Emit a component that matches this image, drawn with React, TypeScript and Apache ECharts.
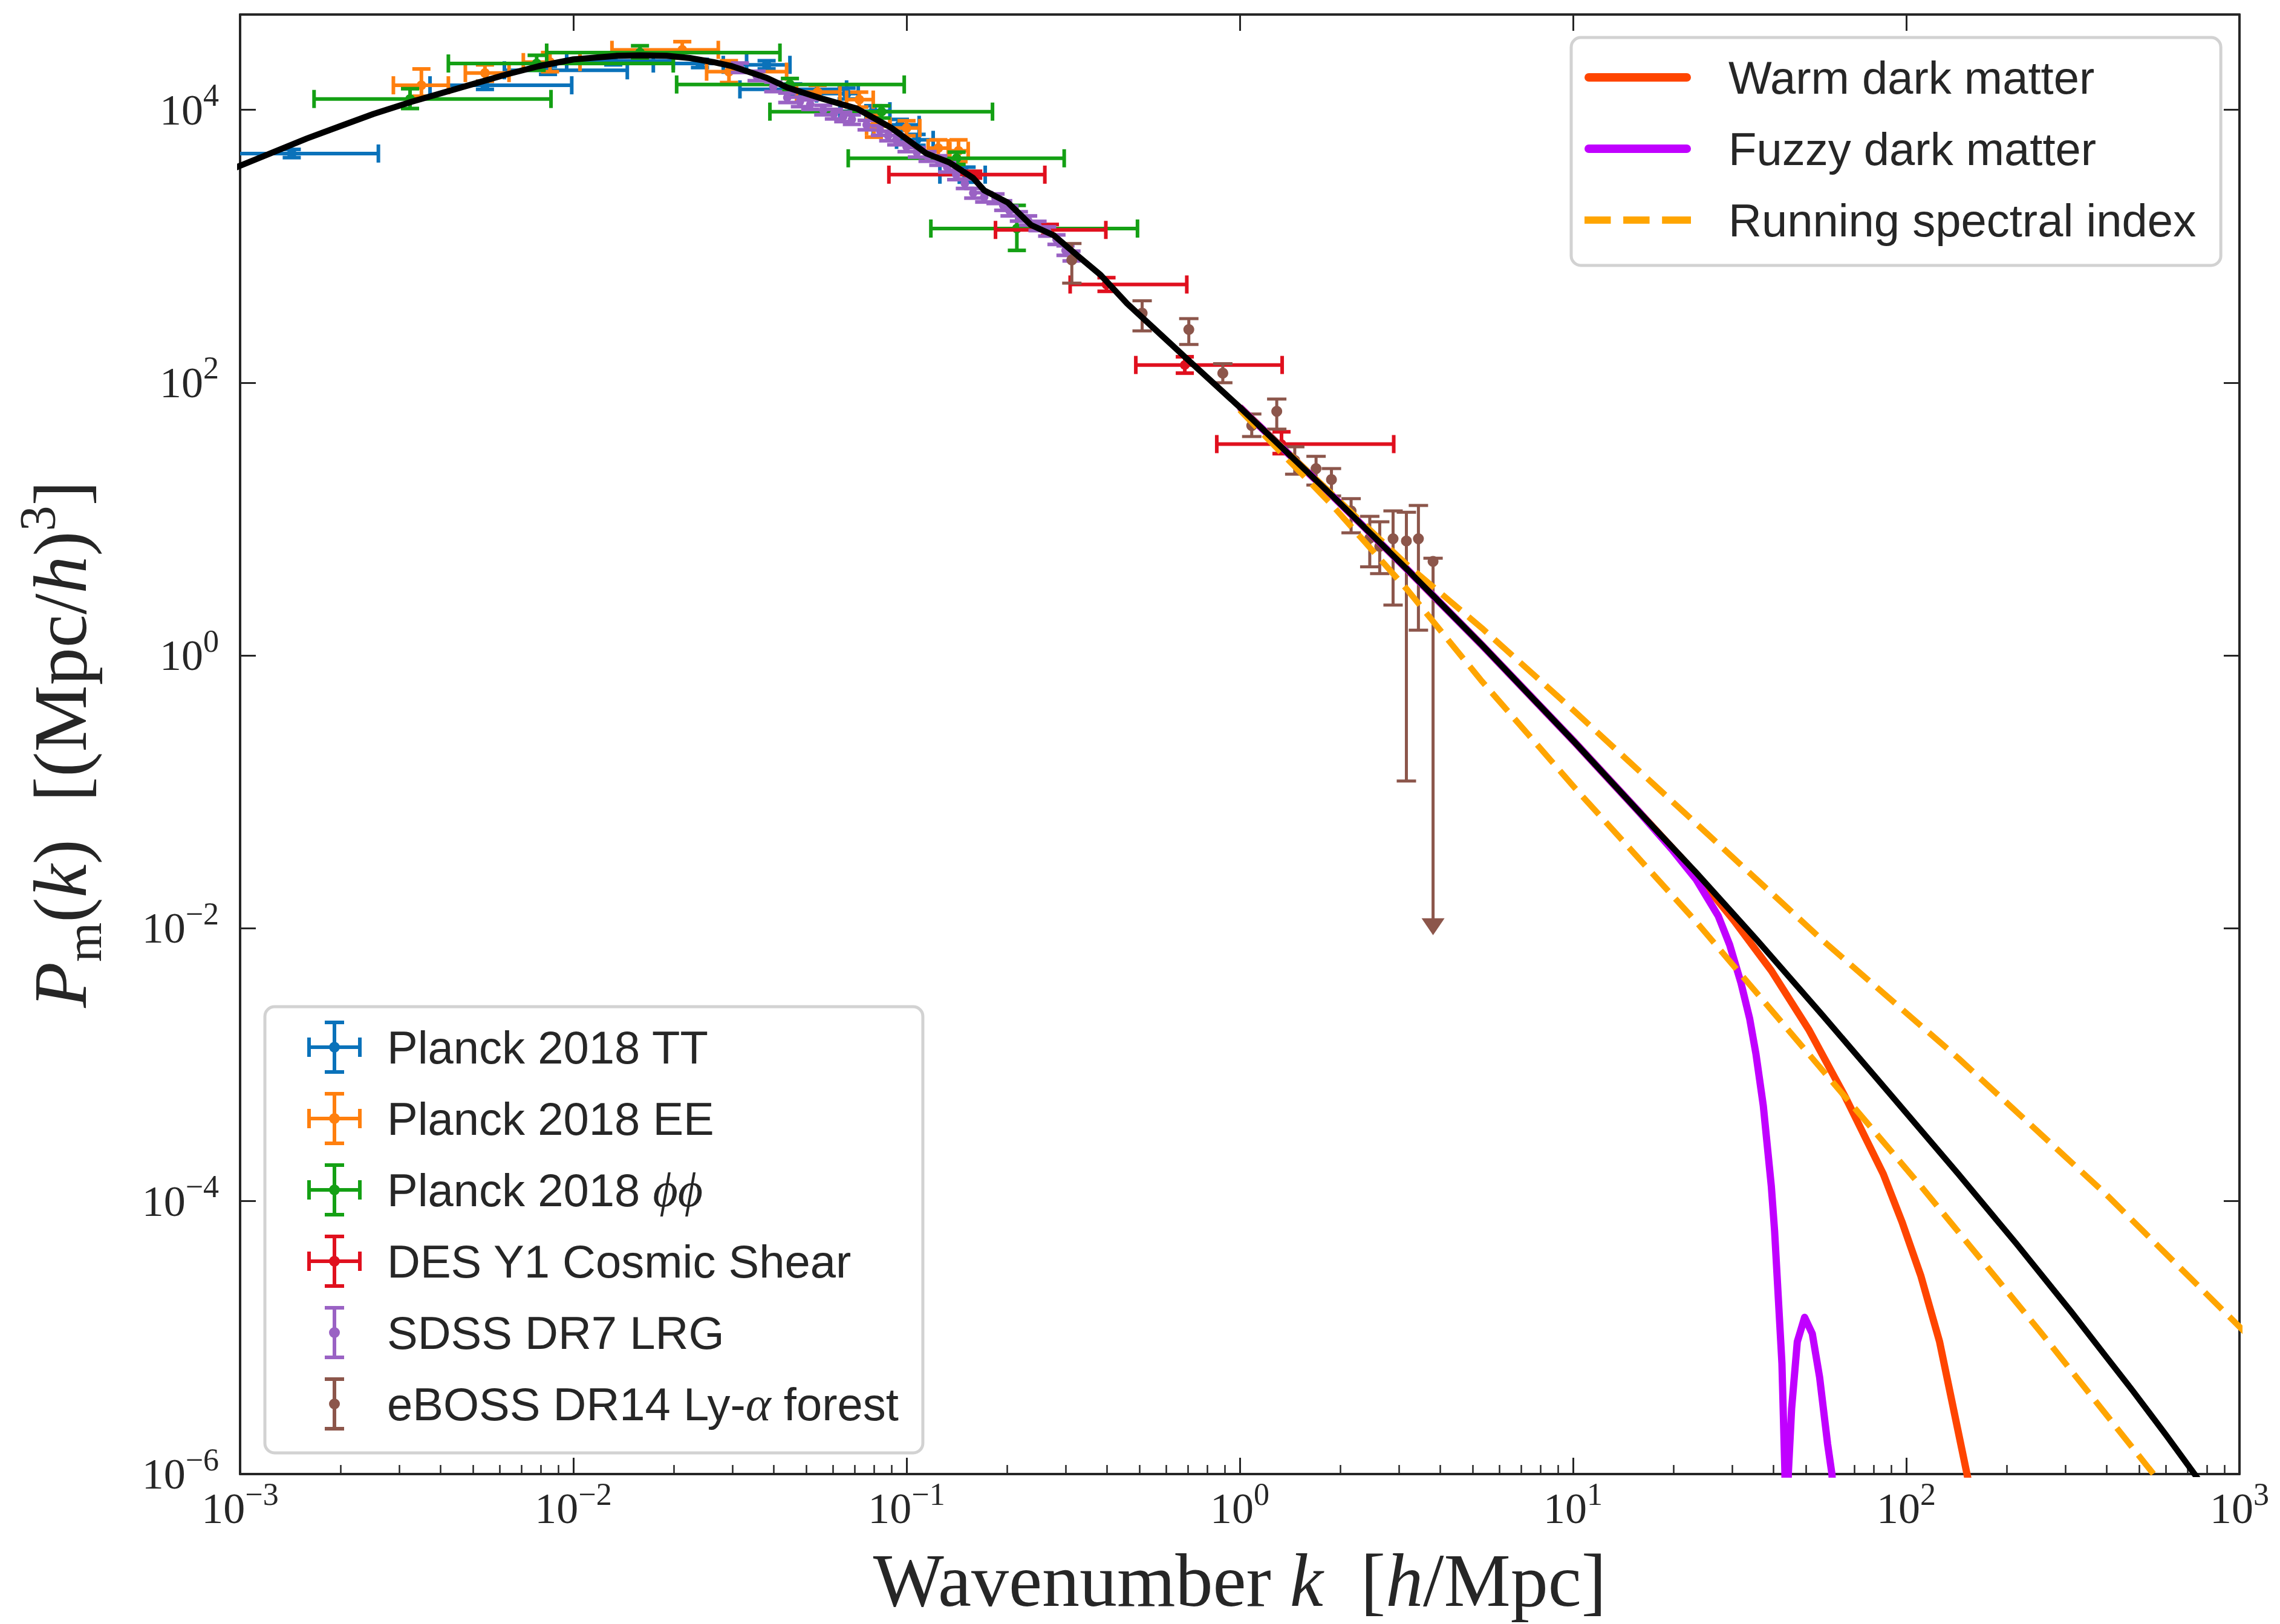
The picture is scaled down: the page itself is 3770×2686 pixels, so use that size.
import React, { useEffect, useRef } from 'react';
import * as echarts from 'echarts';

// Matter power spectrum: linear ΛCDM prediction, alternative dark-matter models
// and the observational band-power estimates from several surveys.

const INK = '#262626';
const SERIF = '"Liberation Serif", "DejaVu Serif", serif';
const SANS = '"Liberation Sans", "DejaVu Sans", sans-serif';

// ---- theory curves (k in h/Mpc, P in (Mpc/h)^3) ----
const lcdmK = [0.00089, 0.001, 0.001259, 0.001585, 0.001995, 0.002512, 0.003273, 0.005012, 0.00631, 0.00787, 0.01, 0.01122, 0.01349, 0.01585, 0.01905, 0.02239, 0.0263, 0.02992, 0.03802, 0.04385, 0.05623, 0.07096, 0.09016, 0.1148, 0.1346, 0.1585, 0.171, 0.2014, 0.236, 0.2767, 0.3243, 0.382, 0.4592, 0.5408, 0.7129, 1.0, 1.897, 3.162, 5.333, 10.12, 15.85, 23.39, 35.48, 56.23, 89.13, 143.2, 213.8, 312.6, 398.1, 478.6, 602.6, 743, 832];
const lcdmP = [3467, 3890, 4898, 6166, 7586, 9333, 11480, 15490, 18200, 20890, 23440, 23990, 24890, 25120, 24890, 23990, 22390, 20900, 17180, 14590, 12020, 10210, 7362, 4786, 4111, 3162, 2570, 2089, 1435, 1202, 863, 617, 380, 263, 141, 66.1, 14.79, 4.335, 1.191, 0.2312, 0.07063, 0.0257, 0.00832, 0.002291, 6.17e-4, 1.585e-4, 4.9e-5, 1.549e-5, 7.24e-6, 4.07e-6, 1.928e-6, 9.55e-7, 6.46e-7];

const wdmK = [1, 1.897, 3.162, 5.333, 10.12, 15.85, 23.39, 30.34, 39.36, 50.93, 65.77, 85.31, 97.05, 110.7, 125.9, 150.7, 162.2];
const wdmP = [66.1, 14.79, 4.335, 1.191, 0.2312, 0.07063, 0.0251, 0.01148, 0.0049, 0.00182, 5.75e-4, 1.585e-4, 7.08e-5, 2.82e-5, 9.33e-6, 1.12e-6, 4.68e-7];

const fdmK = [1, 1.897, 3.162, 5.333, 10.12, 15.85, 19.95, 23.39, 27.29, 29.51, 31.92, 33.88, 35.4, 37.24, 39.36, 40.27, 42.36, 43.25, 43.65, 44.26, 45.29, 47.1, 49.55, 52.24, 54.95, 58.08, 59.84, 61.66];
const fdmP = [66.1, 14.79, 4.335, 1.191, 0.2312, 0.07063, 0.03715, 0.02291, 0.0123, 0.00759, 0.00398, 0.00219, 0.0012, 5.01e-4, 1.29e-4, 6.03e-5, 6.46e-6, 1e-6, 1e-8, 1e-6, 3.02e-6, 9.33e-6, 1.41e-5, 1.07e-5, 5.13e-6, 1.66e-6, 1e-6, 3.16e-7];

const runHighK = [1, 1.897, 3.162, 5.333, 10.12, 23.39, 56.23, 143.2, 398.1, 1000, 1047];
const runHighP = [66.07, 15.14, 4.677, 1.585, 0.389, 0.0589, 0.00813, 0.00112, 1.122e-4, 1.202e-5, 1.072e-5];
const runLowK = [1, 1.897, 3.162, 5.333, 10.12, 23.39, 50.12, 110.7, 251.2, 552.1, 631];
const runLowP = [63.1, 12.59, 3.09, 0.6457, 0.1072, 0.01122, 0.001259, 1.288e-4, 1.122e-5, 1e-6, 6.6e-7];

// ---- measurements: [k, P, kLow, kHigh, PLow, PHigh] ----
const planckTT = [
  [0.001429, 4786, 0.00063, 0.0026, 4467, 5129],
  [0.00543, 15140, 0.003715, 0.00989, 14130, 16220],
  [0.008395, 19500, 0.00621, 0.01452, 18200, 20890],
  [0.01318, 22910, 0.00955, 0.01995, 21380, 24550],
  [0.02399, 21880, 0.01738, 0.03311, 20420, 23440],
  [0.03802, 21380, 0.02818, 0.04467, 19950, 22910],
  [0.0457, 14130, 0.03162, 0.06607, 12880, 15490],
  [0.06607, 13180, 0.0537, 0.07161, 12020, 14450],
  [0.07943, 9772, 0.0631, 0.08913, 8913, 10720],
  [0.0955, 7762, 0.07943, 0.1091, 7079, 8511],
  [0.1072, 6026, 0.09333, 0.1202, 5495, 6607],
  [0.1514, 3350, 0.1259, 0.1722, 2951, 3802],
];
const planckEE = [
  [0.0035, 15140, 0.002884, 0.004217, 12590, 19950],
  [0.00543, 18620, 0.004742, 0.006412, 16220, 21380],
  [0.008511, 22390, 0.007079, 0.01047, 19050, 26300],
  [0.02123, 27540, 0.01306, 0.02723, 23990, 31620],
  [0.02931, 19050, 0.02512, 0.04365, 15850, 22910],
  [0.05408, 13490, 0.04677, 0.0631, 12020, 15140],
  [0.07211, 11890, 0.06607, 0.07943, 10470, 13490],
  [0.0798, 7586, 0.07586, 0.08913, 6310, 9120],
  [0.1, 7362, 0.08913, 0.1096, 6457, 8318],
  [0.1245, 5248, 0.1161, 0.1334, 4571, 6026],
  [0.1432, 5012, 0.1349, 0.1531, 4169, 6026],
];
const planckPhiPhi = [
  [0.003236, 12020, 0.001667, 0.00857, 10230, 14290],
  [0.007762, 21880, 0.004217, 0.01995, 19500, 25120],
  [0.01585, 26300, 0.008318, 0.04169, 23990, 29510],
  [0.04467, 15350, 0.02042, 0.0984, 13800, 16980],
  [0.08414, 9705, 0.0389, 0.1811, 8710, 10720],
  [0.1413, 4416, 0.06683, 0.2972, 3981, 4898],
  [0.2143, 1349, 0.1183, 0.4932, 933, 1995],
];
const desY1 = [
  [0.1585, 3350, 0.08851, 0.26, 3162, 3548],
  [0.2692, 1318, 0.1849, 0.3963, 1202, 1445],
  [0.3981, 524.8, 0.3097, 0.6934, 467.7, 588.8],
  [0.6839, 134.9, 0.4875, 1.34, 117.5, 154.9],
  [1.334, 35.48, 0.853, 2.897, 30.2, 43.65],
];

// SDSS DR7 LRG band powers and their 1-sigma errors
const sdssK = [0.03162, 0.03548, 0.03981, 0.04385, 0.04786, 0.0514, 0.05623, 0.06053, 0.06457, 0.06855, 0.07586, 0.08318, 0.0881, 0.09311, 0.1, 0.1074, 0.1156, 0.1245, 0.1324, 0.1409, 0.1496, 0.1585, 0.171, 0.1849, 0.195, 0.2037, 0.2173, 0.2317, 0.2472, 0.2642, 0.2818, 0.2999, 0.3126];
const sdssP = [20420, 17780, 14790, 12300, 11480, 10960, 10000, 9333, 8913, 8511, 7762, 7079, 6457, 6026, 5370, 4898, 4571, 4266, 3802, 3350, 2884, 2455, 2291, 2239, 1995, 1820, 1660, 1549, 1413, 1288, 1122, 933, 851];
const sdssErr = [1630, 1420, 1180, 980, 920, 880, 800, 750, 710, 680, 620, 570, 520, 480, 430, 390, 370, 340, 300, 270, 230, 200, 180, 180, 160, 150, 130, 120, 110, 100, 90, 75, 70];

// eBOSS DR14 Lyman-alpha: [k, P, PLow, PHigh, upperLimit]
const eboss = [
  [0.3133, 794.3, 537, 1047, 0],
  [0.5093, 323.6, 239.9, 398.1, 0],
  [0.7031, 245.5, 190.5, 295.1, 0],
  [0.8892, 117.5, 100, 138, 0],
  [1.086, 48.42, 40.27, 58.88, 0],
  [1.291, 61.66, 45.71, 75.86, 0],
  [1.462, 26.92, 21.38, 33.88, 0],
  [1.694, 23.44, 17.78, 28.84, 0],
  [1.884, 19.5, 14.79, 23.44, 0],
  [2.158, 11.48, 7.943, 14.13, 0],
  [2.455, 7.244, 4.467, 10.47, 0],
  [2.63, 6.31, 3.981, 9.55, 0],
  [2.884, 7.178, 2.344, 11.48, 0],
  [3.162, 6.918, 0.1202, 11.22, 0],
  [3.436, 7.178, 1.535, 12.59, 0],
  [3.802, 4.898, 0.00891, 5.176, 1],
];

// ---- axis ticks ----
const xMajorTicks = [1e-3, 1e-2, 1e-1, 1, 10, 100, 1000];
const xMinorTicks: number[] = [];
for (let e = -3; e < 3; e++) {
  for (let m = 2; m <= 9; m++) xMinorTicks.push(Number((m * Math.pow(10, e)).toPrecision(3)));
}
const yMajorTicks = [1e-6, 1e-4, 1e-2, 1, 1e2, 1e4];

const COLORS = {
  tt: '#0a72ba',
  ee: '#ff7f0e',
  phi: '#14a014',
  des: '#e0101e',
  sdss: '#9a62c4',
  eboss: '#8c564b',
  wdm: '#ff4500',
  fdm: '#c000ff',
  run: '#ffa500',
  lcdm: '#000000',
};

// legend glyphs: errorbar crosses, vertical error bars with a centre dot, line swatches
const CROSS_ICON =
  'path://M0,41H90V47H0Z M0,28H6V60H0Z M84,28H90V60H84Z M42,0H48V88H42Z M29,0H61V6H29Z M29,82H61V88H29Z M36,44A9,9,0,1,1,54,44A9,9,0,1,1,36,44Z';
const VBAR_ICON =
  'path://M13,0H19V88H13Z M0,0H32V6H0Z M0,82H32V88H0Z M7,44A9,9,0,1,1,25,44A9,9,0,1,1,7,44Z';
const SOLID_ICON = 'path://M7,0H169A7,7,0,0,1,169,14H7A7,7,0,0,1,7,0Z';
const DASH_ICON = 'path://M0,0H40V11H0Z M59,0H99V11H59Z M118,0H162V11H118Z';

function powerLabel(v: number) {
  const e = Math.round(Math.log10(v));
  return `{b|10}{s|${e < 0 ? '\u2212' + String(-e) : String(e)}}`;
}

const zip = (xs: number[], ys: number[]) => xs.map((x, i) => [x, ys[i]]);

function errorBars(color: string, lw: number, cap: number, r: number) {
  return (_params: any, api: any) => {
    const k = api.value(0);
    const p = api.value(1);
    const kLo = api.value(2);
    const kHi = api.value(3);
    const pLo = api.value(4);
    const pHi = api.value(5);
    const upperLimit = api.value(6) === 1;
    const c = api.coord([k, p]);
    const line = { stroke: color, lineWidth: lw };
    const children: any[] = [];
    const seg = (x1: number, y1: number, x2: number, y2: number) =>
      children.push({ type: 'line', shape: { x1, y1, x2, y2 }, style: line });
    if (kHi > kLo) {
      const a = api.coord([kLo, p]);
      const b = api.coord([kHi, p]);
      seg(a[0], c[1], b[0], c[1]);
      seg(a[0], c[1] - cap, a[0], c[1] + cap);
      seg(b[0], c[1] - cap, b[0], c[1] + cap);
    }
    if (pHi > pLo) {
      const top = api.coord([k, pHi])[1];
      const bot = api.coord([k, pLo])[1];
      seg(c[0] - cap, top, c[0] + cap, top);
      if (upperLimit) {
        seg(c[0], top, c[0], bot - 20);
        children.push({
          type: 'polygon',
          shape: { points: [[c[0] - 19, bot - 28], [c[0] + 19, bot - 28], [c[0], bot]] },
          style: { fill: color },
        });
      } else {
        seg(c[0], top, c[0], bot);
        seg(c[0] - cap, bot, c[0] + cap, bot);
      }
    }
    children.push({ type: 'circle', shape: { cx: c[0], cy: c[1], r }, style: { fill: color } });
    return { type: 'group', children };
  };
}

function errorSeries(name: string, color: string, rows: number[][], lw: number, cap: number, r: number) {
  return {
    name,
    type: 'custom',
    xAxisIndex: 0,
    yAxisIndex: 0,
    z: 1,
    clip: true,
    silent: true,
    itemStyle: { color },
    encode: { x: 0, y: 1 },
    dimensions: ['k', 'P', 'kLo', 'kHi', 'PLo', 'PHi', 'lim'],
    renderItem: errorBars(color, lw, cap, r),
    data: rows,
  };
}

function curve(name: string, data: number[][], color: string, width: number, z: number, dash?: number[]) {
  return {
    name,
    type: 'line',
    data,
    xAxisIndex: 0,
    yAxisIndex: 0,
    z,
    symbol: 'none',
    showSymbol: false,
    clip: true,
    silent: true,
    smooth: false,
    lineStyle: { color, width, type: dash ?? 'solid', cap: 'butt', join: 'round' },
    itemStyle: { color, borderWidth: 0 },
    emphasis: { disabled: true },
  };
}

const tickLabelRich = {
  b: { fontFamily: SERIF, fontSize: 72, lineHeight: 100, verticalAlign: 'middle', color: INK },
  s: { fontFamily: SERIF, fontSize: 52, lineHeight: 58, verticalAlign: 'top', color: INK },
};

const spine = { show: true, onZero: false, lineStyle: { color: INK, width: 4 } };

function buildOption() {
  const logX = { type: 'log', logBase: 10, min: 1e-3, max: 1e3, gridIndex: 0, splitLine: { show: false } };
  const logY = { type: 'log', logBase: 10, min: 1e-6, max: 5e4, gridIndex: 0, splitLine: { show: false } };

  const sdssRows = sdssK.map((k, i) => [k, sdssP[i], k, k, sdssP[i] - sdssErr[i], sdssP[i] + sdssErr[i]]);
  const ebossRows = eboss.map((d) => [d[0], d[1], d[0], d[0], d[2], d[3], d[4]]);

  const dataLegendNames = [
    'Planck 2018 TT',
    'Planck 2018 EE',
    'Planck 2018 ϕϕ',
    'DES Y1 Cosmic Shear',
    'SDSS DR7 LRG',
    'eBOSS DR14 Ly-α forest',
  ];

  return {
    animation: false,
    backgroundColor: '#ffffff',
    grid: { left: 397, right: 67, top: 24, bottom: 248, containLabel: false, outerBoundsMode: 'none' },
    xAxis: [
      {
        ...logX,
        position: 'bottom',
        axisLine: spine,
        axisTick: { show: true, inside: true, length: 27, lineStyle: { color: INK, width: 3 }, customValues: xMajorTicks },
        axisLabel: { show: true, customValues: xMajorTicks, margin: 7, formatter: powerLabel, rich: tickLabelRich },
        name: '{r|Wavenumber }{i|k}{r|  [}{i|h}{r|/Mpc]}',
        nameLocation: 'middle',
        nameGap: 112,
        nameMoveOverlap: false,
        nameTextStyle: {
          color: INK,
          fontFamily: SERIF,
          fontSize: 124,
          rich: {
            r: { fontFamily: SERIF, fontSize: 124, lineHeight: 128, color: INK },
            i: { fontFamily: SERIF, fontStyle: 'italic', fontSize: 124, lineHeight: 128, color: INK },
          },
        },
      },
      {
        ...logX,
        position: 'bottom',
        axisLine: { show: false },
        axisTick: { show: true, inside: true, length: 15, lineStyle: { color: INK, width: 2.5 }, customValues: xMinorTicks },
        axisLabel: { show: false },
      },
      {
        ...logX,
        position: 'top',
        axisLine: spine,
        axisTick: { show: true, inside: true, length: 27, lineStyle: { color: INK, width: 3 }, customValues: xMajorTicks },
        axisLabel: { show: false },
      },
    ],
    yAxis: [
      {
        ...logY,
        position: 'left',
        axisLine: spine,
        axisTick: { show: true, inside: true, length: 26, lineStyle: { color: INK, width: 3 }, customValues: yMajorTicks },
        axisLabel: { show: true, customValues: yMajorTicks, margin: 35, formatter: powerLabel, rich: tickLabelRich },
        name: '{i|P}{sub|m}{r|(}{i|k}{r|)  [(Mpc/}{i|h}{r|)}{sup|3}{r|]}',
        nameLocation: 'middle',
        nameRotate: 90,
        nameGap: 217,
        nameMoveOverlap: false,
        nameTextStyle: {
          color: INK,
          fontFamily: SERIF,
          fontSize: 124,
          rich: {
            r: { fontFamily: SERIF, fontSize: 124, lineHeight: 160, verticalAlign: 'middle', color: INK },
            i: { fontFamily: SERIF, fontStyle: 'italic', fontSize: 124, lineHeight: 160, verticalAlign: 'middle', color: INK },
            sub: { fontFamily: SERIF, fontSize: 84, lineHeight: 110, verticalAlign: 'bottom', color: INK },
            sup: { fontFamily: SERIF, fontSize: 84, lineHeight: 100, verticalAlign: 'top', color: INK },
          },
        },
      },
      {
        ...logY,
        position: 'right',
        axisLine: spine,
        axisTick: { show: true, inside: true, length: 26, lineStyle: { color: INK, width: 3 }, customValues: yMajorTicks },
        axisLabel: { show: false },
      },
    ],
    legend: [
      {
        orient: 'vertical',
        left: 2598,
        top: 62,
        data: [
          { name: 'Warm dark matter', icon: SOLID_ICON },
          { name: 'Fuzzy dark matter', icon: SOLID_ICON },
          { name: 'Running spectral index', icon: DASH_ICON },
        ],
        itemWidth: 176,
        itemHeight: 80,
        itemGap: 38,
        padding: [26, 41, 35, 22],
        backgroundColor: 'rgba(255,255,255,0.85)',
        borderColor: '#d2d2d2',
        borderWidth: 5,
        borderRadius: 16,
        selectedMode: false,
        itemStyle: { borderWidth: 0 },
        textStyle: { fontFamily: SANS, fontSize: 76, lineHeight: 80, color: INK, padding: [0, 0, 0, 57] },
      },
      {
        orient: 'vertical',
        left: 438,
        top: 1665,
        data: dataLegendNames.map((name, i) => ({ name, icon: i >= 4 ? VBAR_ICON : CROSS_ICON })),
        itemWidth: 90,
        itemHeight: 88,
        itemGap: 30,
        padding: [23, 40, 37, 70],
        backgroundColor: 'rgba(255,255,255,0.85)',
        borderColor: '#d2d2d2',
        borderWidth: 5,
        borderRadius: 16,
        selectedMode: false,
        itemStyle: { borderWidth: 0 },
        formatter: (name: string) => {
          if (name === 'Planck 2018 ϕϕ') return '{t|Planck 2018 }{m|ϕϕ}';
          if (name === 'eBOSS DR14 Ly-α forest') return '{t|eBOSS DR14 Ly-}{m|α}{t| forest}';
          return `{t|${name}}`;
        },
        textStyle: {
          fontFamily: SANS,
          fontSize: 76,
          lineHeight: 80,
          color: INK,
          padding: [0, 0, 0, 37],
          rich: {
            t: { fontFamily: SANS, fontSize: 76, lineHeight: 80, color: INK },
            m: { fontFamily: SERIF, fontStyle: 'italic', fontSize: 80, lineHeight: 80, color: INK },
          },
        },
      },
    ],
    series: [
      errorSeries('Planck 2018 TT', COLORS.tt, planckTT, 6, 15, 8),
      errorSeries('Planck 2018 EE', COLORS.ee, planckEE, 6, 15, 8),
      errorSeries('Planck 2018 ϕϕ', COLORS.phi, planckPhiPhi, 6, 15, 8),
      errorSeries('DES Y1 Cosmic Shear', COLORS.des, desY1, 6, 15, 8),
      errorSeries('SDSS DR7 LRG', COLORS.sdss, sdssRows, 6, 15, 7),
      errorSeries('eBOSS DR14 Ly-α forest', COLORS.eboss, ebossRows, 5, 16, 9),
      curve('Warm dark matter', zip(wdmK, wdmP), COLORS.wdm, 12, 2),
      curve('Fuzzy dark matter', zip(fdmK, fdmP), COLORS.fdm, 12, 2),
      curve('Running spectral index', zip(runHighK, runHighP), COLORS.run, 10, 2, [40, 17]),
      curve('Running spectral index', zip(runLowK, runLowP), COLORS.run, 10, 2, [40, 17]),
      curve('Linear ΛCDM', zip(lcdmK, lcdmP), COLORS.lcdm, 10, 3),
    ],
  };
}

export default function App() {
  const ref = useRef<HTMLDivElement>(null);
  useEffect(() => {
    if (!ref.current) return;
    const chart = echarts.init(ref.current, undefined, { renderer: 'svg' });
    chart.setOption(buildOption() as any);
    return () => chart.dispose();
  }, []);
  return (
    <div
      ref={ref}
      style={{ position: 'absolute', left: 0, top: 0, width: 3770, height: 2686, background: '#ffffff' }}
    />
  );
}
